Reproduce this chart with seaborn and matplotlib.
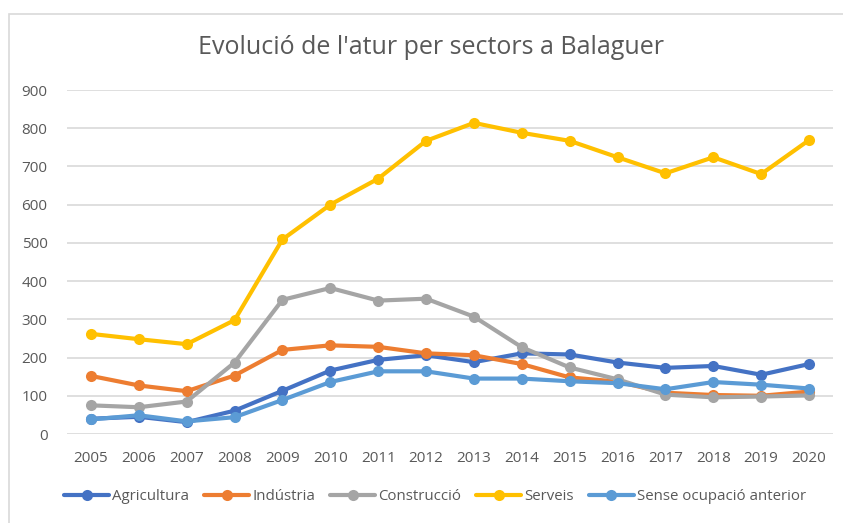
import matplotlib
matplotlib.use("Agg")
import matplotlib.pyplot as plt
import seaborn as sns
import pandas as pd
from matplotlib.patches import Rectangle

years = list(range(2005, 2021))
agricultura = [40, 45, 31, 61, 113, 166, 194, 206, 188, 211, 208, 187, 173, 178, 155, 183]
industria = [152, 127, 112, 153, 220, 232, 228, 211, 206, 183, 148, 137, 108, 102, 100, 111]
construccio = [75, 70, 85, 187, 351, 382, 349, 354, 307, 227, 174, 143, 103, 96, 98, 101]
serveis = [262, 248, 235, 298, 509, 600, 668, 767, 814, 788, 767, 724, 682, 724, 680, 769]
sense_ocupacio = [38, 49, 33, 44, 89, 136, 164, 164, 145, 145, 138, 133, 117, 136, 129, 119]

series_names = ["Agricultura", "Indústria", "Construcció", "Serveis", "Sense ocupació anterior"]
series_values = [agricultura, industria, construccio, serveis, sense_ocupacio]
colors = ["#4472C4", "#ED7D31", "#A5A5A5", "#FFC000", "#5B9BD5"]
title = "Evolució de l'atur per sectors a Balaguer"

rows = []
for name, vals in zip(series_names, series_values):
    for y, v in zip(years, vals):
        rows.append({"Any": y, "Valor": v, "Sector": name})
df = pd.DataFrame(rows)

sns.set_theme(style="white")
plt.rcParams['font.family'] = ['Open Sans', 'DejaVu Sans']

fig = plt.figure(figsize=(8.43, 5.23), dpi=100)
ax = fig.add_axes([67/843, 1 - 434/523, (833-67)/843, (434-90)/523])

# chart border
fig.patches.append(Rectangle((9/843, -0.1), 1.2, (523-14)/523 + 0.1, transform=fig.transFigure,
                             fill=False, edgecolor="#D9D9D9", linewidth=1.2))

sns.lineplot(data=df, x="Any", y="Valor", hue="Sector", hue_order=series_names,
             palette=dict(zip(series_names, colors)), marker="o", markersize=8,
             markeredgewidth=0, linewidth=3, dashes=False, ax=ax, legend=True)

ax.set_xlim(2004.5, 2020.5)
ax.set_ylim(0, 900)
ax.set_yticks(range(0, 901, 100))
ax.set_xticks(years)
ax.set_xticklabels([str(y) for y in years])
ax.grid(axis="y", color="#D9D9D9", linewidth=1.2)
ax.set_axisbelow(True)
for s in ax.spines.values():
    s.set_visible(False)
ax.tick_params(axis="both", length=0, labelsize=11, labelcolor="#595959")
ax.tick_params(axis="x", pad=12)
ax.tick_params(axis="y", pad=14)
ax.set_xlabel("")
ax.set_ylabel("")

fig.text(431/843, 1 - 48/523, title, ha="center", va="center", fontsize=18, color="#595959")

handles, labels = ax.get_legend_handles_labels()
ax.legend(handles, labels, loc="center", bbox_to_anchor=(435/843, (523-497)/523), bbox_transform=fig.transFigure,
          ncol=5, frameon=False, fontsize=10.8, handlelength=3.0, handletextpad=0.2, columnspacing=1.0,
          labelcolor="#595959")

fig.savefig("out.png", dpi=100)
